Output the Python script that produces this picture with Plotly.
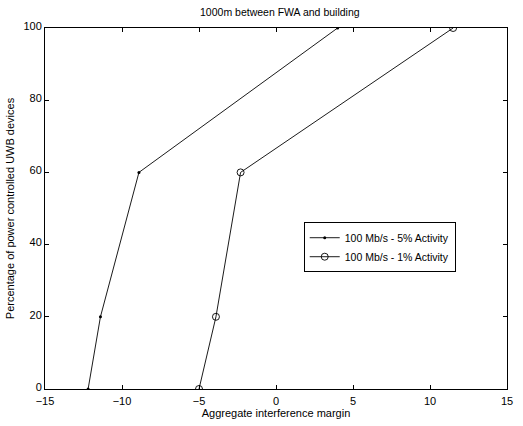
import plotly.graph_objects as go

# Percentage of power-controlled UWB devices vs aggregate interference margin
pct_devices = [0, 20, 60, 100]
margin_5pct = [-12.2, -11.4, -8.9, 4.0]
margin_1pct = [-5.0, -3.9, -2.3, 11.5]

x_ticks = [-15, -10, -5, 0, 5, 10, 15]
y_ticks = [0, 20, 40, 60, 80, 100]

font_family = "Liberation Sans, Arial, sans-serif"

fig = go.Figure()
fig.add_trace(go.Scatter(
    x=margin_5pct, y=pct_devices, mode="lines+markers",
    name="100 Mb/s - 5% Activity",
    line=dict(color="black", width=0.9),
    marker=dict(symbol="circle", size=3, color="black"),
))
fig.add_trace(go.Scatter(
    x=margin_1pct, y=pct_devices, mode="lines+markers",
    name="100 Mb/s - 1% Activity",
    line=dict(color="black", width=0.9),
    marker=dict(symbol="circle-open", size=7, color="black", line=dict(width=0.9)),
))

axis_common = dict(
    showgrid=False, zeroline=False, showline=True, linecolor="black", linewidth=1,
    mirror="ticks", ticks="inside", ticklen=4, tickcolor="black",
    tickfont=dict(family=font_family, size=11, color="black"),
)

fig.update_layout(
    width=523, height=426,
    margin=dict(l=45, r=10, t=28, b=30),
    paper_bgcolor="white", plot_bgcolor="white",
    font=dict(family=font_family, size=11, color="black"),
    title=dict(text="1000m between FWA and building", x=0.535, xanchor="center",
               y=0.972, yanchor="middle", font=dict(size=10.5)),
    xaxis=dict(range=[-15, 15], tickvals=x_ticks, ticklabelstandoff=2, **axis_common,
               title=dict(text="Aggregate interference margin", standoff=1,
                          font=dict(size=11))),
    yaxis=dict(range=[0, 100], tickvals=y_ticks, ticklabelshift=-2, **axis_common,
               title=dict(text="Percentage of power controlled UWB devices", standoff=6,
                          font=dict(size=11))),
    legend=dict(x=0.56, y=0.462, xanchor="left", yanchor="top",
                bordercolor="black", borderwidth=1, bgcolor="white",
                font=dict(size=10.5), tracegroupgap=0, itemwidth=30,
                traceorder="normal"),
)

fig.write_html("out.html")
